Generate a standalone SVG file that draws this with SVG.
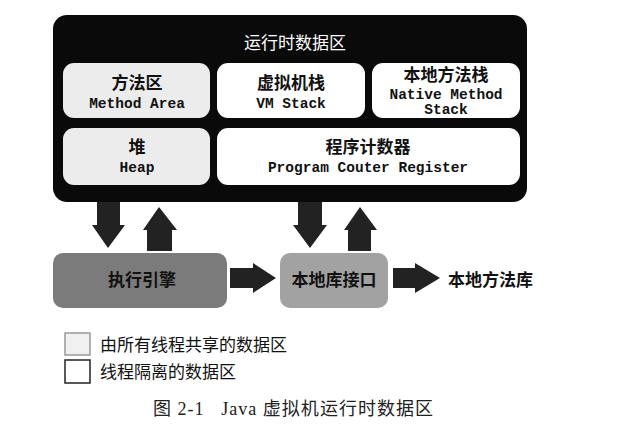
<svg xmlns="http://www.w3.org/2000/svg" width="628" height="446" viewBox="0 0 628 446">
<style>
.zh{font-family:"Noto Sans CJK SC","Noto Sans",sans-serif;font-size:17px;fill:#111;text-anchor:middle}
.b{font-weight:bold}
.en{font-family:"Liberation Mono","DejaVu Sans Mono",monospace;font-size:14.5px;font-weight:bold;fill:#111;text-anchor:middle}
.shared{fill:#ececec;stroke:none}
.priv{fill:#ffffff;stroke:none}
.arrow{fill:#222}
</style>
<rect width="628" height="446" fill="#fff"/>
<g id="runtime-area">
<rect x="53" y="15" width="474" height="187" rx="14" fill="#0a0a0a"/>
<text x="295" y="49" class="zh" style="fill:#fff">运行时数据区</text>
</g>
<g id="method-area">
<rect x="63" y="63" width="147" height="55" rx="11" class="shared"/>
<text x="137" y="89" class="zh b">方法区</text>
<text x="137" y="108" class="en">Method Area</text>
</g>
<g id="vm-stack">
<rect x="217" y="63" width="148" height="55" rx="11" class="priv"/>
<text x="291" y="89" class="zh b">虚拟机栈</text>
<text x="291" y="108" class="en">VM Stack</text>
</g>
<g id="native-method-stack">
<rect x="372" y="63" width="148" height="55" rx="11" class="priv"/>
<text x="446" y="81" class="zh b">本地方法栈</text>
<text x="446" y="99" class="en">Native Method</text>
<text x="446" y="114" class="en">Stack</text>
</g>
<g id="heap">
<rect x="63" y="128" width="147" height="57" rx="11" class="shared"/>
<text x="137" y="153" class="zh b">堆</text>
<text x="137" y="172" class="en">Heap</text>
</g>
<g id="pc-register">
<rect x="217" y="128" width="303" height="57" rx="11" class="priv"/>
<text x="368" y="153" class="zh b">程序计数器</text>
<text x="368" y="172" class="en">Program Couter Register</text>
</g>
<g id="execution-engine">
<rect x="53" y="253" width="174" height="55" rx="10" fill="#7b7b7b"/>
<text x="142" y="286" class="zh b">执行引擎</text>
</g>
<g id="native-interface">
<rect x="280" y="253" width="108" height="55" rx="10" fill="#a2a2a2"/>
<text x="334" y="286" class="zh b">本地库接口</text>
</g>
<g id="native-library">
<text x="448" y="286" class="zh b" style="text-anchor:start">本地方法库</text>
</g>
<g id="connectors">
<polygon class="arrow" points="97,202 120,202 120,225 125,225 108,248 92,225 97,225"/>
<polygon class="arrow" points="159,207 177,230 172,230 172,251 147,251 147,230 143,230"/>
<polygon class="arrow" points="298,202 322,202 322,225 327,225 310,248 293,225 298,225"/>
<polygon class="arrow" points="360,207 377,230 371,230 371,251 348,251 348,230 344,230"/>
<polygon class="arrow" points="230,268 253,268 253,263 276,278 253,293 253,288 230,288"/>
<polygon class="arrow" points="393,268 415,268 415,263 440,278 415,293 415,288 393,288"/>
</g>
<g id="legend">
<rect x="65" y="333" width="25" height="22" fill="#f0f0f0" stroke="#999" stroke-width="1.5"/>
<text x="100" y="351" class="zh" style="text-anchor:start">由所有线程共享的数据区</text>
<rect x="65" y="360" width="25" height="23" fill="#fff" stroke="#222" stroke-width="1.5"/>
<text x="100" y="378" class="zh" style="text-anchor:start">线程隔离的数据区</text>
</g>
<g id="caption">
<text x="153" y="415" textLength="280" lengthAdjust="spacing" style="font-family:'Liberation Serif','Noto Sans CJK SC',serif;font-size:18px;fill:#222" xml:space="preserve">图 2-1   Java 虚拟机运行时数据区</text>
</g>
</svg>
